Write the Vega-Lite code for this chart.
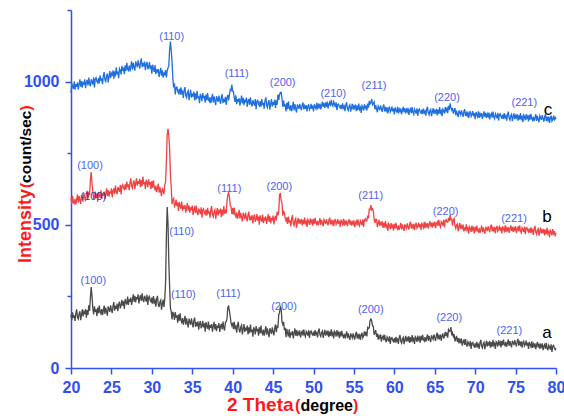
{
"$schema":"https://vega.github.io/schema/vega-lite/v6.json",
"width":485,"height":358,
"autosize":{"type":"none"},
"padding":{"left":71,"top":10,"right":8,"bottom":48},
"config":{"font":"Liberation Sans","view":{"stroke":null}},
"datasets":{
"xrd":[
{"x":20.0,"a":186,"b":593,"c":961},{"x":20.1,"a":167,"b":573,"c":995},{"x":20.2,"a":194,"b":601,"c":982},{"x":20.3,"a":175,"b":579,"c":974},{"x":20.4,"a":184,"b":574,"c":1001},{"x":20.5,"a":164,"b":591,"c":972},{"x":20.6,"a":192,"b":571,"c":991},{"x":20.7,"a":205,"b":588,"c":982},{"x":20.8,"a":177,"b":606,"c":997},{"x":20.9,"a":171,"b":577,"c":972},
{"x":21.0,"a":190,"b":600,"c":990},{"x":21.1,"a":198,"b":586,"c":1008},{"x":21.2,"a":167,"b":573,"c":982},{"x":21.3,"a":187,"b":604,"c":1002},{"x":21.4,"a":205,"b":596,"c":979},{"x":21.5,"a":180,"b":586,"c":999},{"x":21.6,"a":196,"b":610,"c":990},{"x":21.7,"a":188,"b":595,"c":1008},{"x":21.8,"a":206,"b":583,"c":977},{"x":21.9,"a":176,"b":606,"c":997},
{"x":22.0,"a":202,"b":619,"c":1006},{"x":22.1,"a":185,"b":592,"c":987},{"x":22.2,"a":219,"b":610,"c":1014},{"x":22.3,"a":199,"b":603,"c":992},{"x":22.4,"a":247,"b":661,"c":984},{"x":22.5,"a":283,"b":684,"c":1008},{"x":22.6,"a":251,"b":644,"c":1000},{"x":22.7,"a":209,"b":619,"c":990},{"x":22.8,"a":187,"b":590,"c":1015},{"x":22.9,"a":215,"b":597,"c":980},
{"x":23.0,"a":196,"b":616,"c":1008},{"x":23.1,"a":205,"b":594,"c":1013},{"x":23.2,"a":181,"b":609,"c":1001},{"x":23.3,"a":211,"b":581,"c":996},{"x":23.4,"a":191,"b":615,"c":1013},{"x":23.5,"a":218,"b":602,"c":994},{"x":23.6,"a":195,"b":594,"c":1022},{"x":23.7,"a":189,"b":620,"c":1003},{"x":23.8,"a":206,"b":591,"c":1011},{"x":23.9,"a":185,"b":610,"c":991},
{"x":24.0,"a":201,"b":601,"c":1020},{"x":24.1,"a":218,"b":616,"c":1033},{"x":24.2,"a":189,"b":590,"c":1005},{"x":24.3,"a":211,"b":609,"c":1000},{"x":24.4,"a":197,"b":627,"c":1020},{"x":24.5,"a":183,"b":601,"c":1028},{"x":24.6,"a":215,"b":621,"c":997},{"x":24.7,"a":206,"b":598,"c":1018},{"x":24.8,"a":196,"b":617,"c":1037},{"x":24.9,"a":219,"b":609,"c":1012},
{"x":25.0,"a":204,"b":627,"c":1028},{"x":25.1,"a":192,"b":596,"c":1020},{"x":25.2,"a":217,"b":618,"c":1039},{"x":25.3,"a":230,"b":627,"c":1010},{"x":25.4,"a":200,"b":608,"c":1036},{"x":25.5,"a":217,"b":637,"c":1018},{"x":25.6,"a":206,"b":615,"c":1050},{"x":25.7,"a":225,"b":607,"c":1025},{"x":25.8,"a":198,"b":632,"c":1035},{"x":25.9,"a":221,"b":625,"c":1012},
{"x":26.0,"a":232,"b":615,"c":1046},{"x":26.1,"a":208,"b":640,"c":1040},{"x":26.2,"a":218,"b":606,"c":1025},{"x":26.3,"a":238,"b":635,"c":1055},{"x":26.4,"a":218,"b":640,"c":1038},{"x":26.5,"a":233,"b":628,"c":1049},{"x":26.6,"a":206,"b":624,"c":1026},{"x":26.7,"a":241,"b":641,"c":1057},{"x":26.8,"a":229,"b":623,"c":1037},{"x":26.9,"a":222,"b":651,"c":1066},
{"x":27.0,"a":249,"b":632,"c":1044},{"x":27.1,"a":220,"b":641,"c":1039},{"x":27.2,"a":240,"b":621,"c":1056},{"x":27.3,"a":231,"b":649,"c":1036},{"x":27.4,"a":246,"b":662,"c":1053},{"x":27.5,"a":220,"b":634,"c":1071},{"x":27.6,"a":239,"b":628,"c":1042},{"x":27.7,"a":257,"b":648,"c":1065},{"x":27.8,"a":232,"b":655,"c":1051},{"x":27.9,"a":252,"b":624,"c":1038},
{"x":28.0,"a":229,"b":645,"c":1070},{"x":28.1,"a":248,"b":662,"c":1061},{"x":28.2,"a":240,"b":637,"c":1050},{"x":28.3,"a":257,"b":652,"c":1074},{"x":28.4,"a":225,"b":643,"c":1058},{"x":28.5,"a":245,"b":660,"c":1045},{"x":28.6,"a":254,"b":631,"c":1068},{"x":28.7,"a":234,"b":656,"c":1081},{"x":28.8,"a":261,"b":636,"c":1050},{"x":28.9,"a":239,"b":668,"c":1065},
{"x":29.0,"a":230,"b":642,"c":1053},{"x":29.1,"a":252,"b":649,"c":1070},{"x":29.2,"a":244,"b":624,"c":1040},{"x":29.3,"a":232,"b":657,"c":1060},{"x":29.4,"a":256,"b":649,"c":1069},{"x":29.5,"a":220,"b":631,"c":1043},{"x":29.6,"a":246,"b":659,"c":1050},{"x":29.7,"a":250,"b":640,"c":1068},{"x":29.8,"a":236,"b":649,"c":1044},{"x":29.9,"a":231,"b":624,"c":1057},
{"x":30.0,"a":246,"b":653,"c":1028},{"x":30.1,"a":225,"b":630,"c":1059},{"x":30.2,"a":251,"b":655,"c":1044},{"x":30.3,"a":229,"b":631,"c":1034},{"x":30.4,"a":236,"b":623,"c":1058},{"x":30.5,"a":214,"b":637,"c":1026},{"x":30.6,"a":241,"b":614,"c":1043},{"x":30.7,"a":252,"b":628,"c":1031},{"x":30.8,"a":221,"b":644,"c":1044},{"x":30.9,"a":213,"b":612,"c":1016},
{"x":31.0,"a":231,"b":632,"c":1032},{"x":31.1,"a":237,"b":615,"c":1048},{"x":31.2,"a":204,"b":600,"c":1021},{"x":31.3,"a":223,"b":629,"c":1039},{"x":31.4,"a":239,"b":619,"c":1014},{"x":31.5,"a":213,"b":607,"c":1032},{"x":31.6,"a":241,"b":640,"c":1022},{"x":31.7,"a":297,"b":649,"c":1040},{"x":31.8,"a":460,"b":720,"c":1015},{"x":31.9,"a":562,"b":815,"c":1038},
{"x":32.0,"a":505,"b":835,"c":1048},{"x":32.1,"a":372,"b":812,"c":1055},{"x":32.2,"a":285,"b":765,"c":1112},{"x":32.3,"a":210,"b":675,"c":1140},{"x":32.4,"a":197,"b":630,"c":1110},{"x":32.5,"a":170,"b":572,"c":1068},{"x":32.6,"a":196,"b":586,"c":1011},{"x":32.7,"a":187,"b":592,"c":980},{"x":32.8,"a":168,"b":564,"c":994},{"x":32.9,"a":195,"b":570,"c":955},
{"x":33.0,"a":176,"b":588,"c":978},{"x":33.1,"a":184,"b":565,"c":981},{"x":33.2,"a":158,"b":578,"c":967},{"x":33.3,"a":187,"b":548,"c":960},{"x":33.4,"a":165,"b":580,"c":975},{"x":33.5,"a":191,"b":566,"c":954},{"x":33.6,"a":166,"b":556,"c":980},{"x":33.7,"a":159,"b":581,"c":959},{"x":33.8,"a":174,"b":549,"c":965},{"x":33.9,"a":151,"b":567,"c":943},
{"x":34.0,"a":166,"b":556,"c":970},{"x":34.1,"a":182,"b":569,"c":981},{"x":34.2,"a":151,"b":542,"c":951},{"x":34.3,"a":173,"b":560,"c":944},{"x":34.4,"a":157,"b":576,"c":962},{"x":34.5,"a":142,"b":549,"c":968},{"x":34.6,"a":172,"b":567,"c":935},{"x":34.7,"a":162,"b":542,"c":954},{"x":34.8,"a":151,"b":561,"c":971},{"x":34.9,"a":173,"b":551,"c":944},
{"x":35.0,"a":156,"b":567,"c":958},{"x":35.1,"a":142,"b":534,"c":948},{"x":35.2,"a":165,"b":554,"c":965},{"x":35.3,"a":176,"b":561,"c":934},{"x":35.4,"a":144,"b":541,"c":959},{"x":35.5,"a":159,"b":567,"c":938},{"x":35.6,"a":146,"b":544,"c":968},{"x":35.7,"a":163,"b":534,"c":942},{"x":35.8,"a":134,"b":557,"c":949},{"x":35.9,"a":155,"b":548,"c":925},
{"x":36.0,"a":164,"b":537,"c":957},{"x":36.1,"a":139,"b":561,"c":949},{"x":36.2,"a":146,"b":525,"c":932},{"x":36.3,"a":165,"b":552,"c":960},{"x":36.4,"a":142,"b":556,"c":942},{"x":36.5,"a":156,"b":542,"c":950},{"x":36.6,"a":127,"b":537,"c":926},{"x":36.7,"a":160,"b":553,"c":955},{"x":36.8,"a":146,"b":532,"c":934},{"x":36.9,"a":137,"b":559,"c":960},
{"x":37.0,"a":162,"b":539,"c":937},{"x":37.1,"a":132,"b":547,"c":931},{"x":37.2,"a":150,"b":525,"c":946},{"x":37.3,"a":140,"b":553,"c":925},{"x":37.4,"a":153,"b":565,"c":940},{"x":37.5,"a":127,"b":535,"c":957},{"x":37.6,"a":145,"b":528,"c":927},{"x":37.7,"a":161,"b":547,"c":948},{"x":37.8,"a":135,"b":553,"c":933},{"x":37.9,"a":153,"b":521,"c":918},
{"x":38.0,"a":129,"b":541,"c":949},{"x":38.1,"a":148,"b":558,"c":940},{"x":38.2,"a":140,"b":533,"c":929},{"x":38.3,"a":157,"b":548,"c":951},{"x":38.4,"a":126,"b":540,"c":935},{"x":38.5,"a":146,"b":557,"c":922},{"x":38.6,"a":154,"b":527,"c":945},{"x":38.7,"a":135,"b":553,"c":956},{"x":38.8,"a":162,"b":533,"c":925},{"x":38.9,"a":140,"b":565,"c":940},
{"x":39.0,"a":131,"b":539,"c":928},{"x":39.1,"a":159,"b":549,"c":947},{"x":39.2,"a":161,"b":540,"c":919},{"x":39.3,"a":172,"b":582,"c":942},{"x":39.4,"a":212,"b":604,"c":954},{"x":39.5,"a":216,"b":612,"c":934},{"x":39.6,"a":199,"b":598,"c":955},{"x":39.7,"a":180,"b":566,"c":972},{"x":39.8,"a":157,"b":563,"c":969},{"x":39.9,"a":148,"b":538,"c":990},
{"x":40.0,"a":158,"b":558,"c":967},{"x":40.1,"a":136,"b":535,"c":965},{"x":40.2,"a":161,"b":560,"c":942},{"x":40.3,"a":139,"b":536,"c":929},{"x":40.4,"a":145,"b":528,"c":952},{"x":40.5,"a":123,"b":543,"c":921},{"x":40.6,"a":150,"b":521,"c":939},{"x":40.7,"a":161,"b":536,"c":929},{"x":40.8,"a":132,"b":552,"c":942},{"x":40.9,"a":124,"b":521,"c":916},
{"x":41.0,"a":143,"b":542,"c":934},{"x":41.1,"a":149,"b":526,"c":951},{"x":41.2,"a":117,"b":512,"c":924},{"x":41.3,"a":136,"b":542,"c":943},{"x":41.4,"a":153,"b":532,"c":918},{"x":41.5,"a":126,"b":520,"c":937},{"x":41.6,"a":141,"b":543,"c":928},{"x":41.7,"a":131,"b":526,"c":944},{"x":41.8,"a":148,"b":512,"c":912},{"x":41.9,"a":117,"b":535,"c":931},
{"x":42.0,"a":142,"b":546,"c":939},{"x":42.1,"a":122,"b":515,"c":919},{"x":42.2,"a":152,"b":529,"c":945},{"x":42.3,"a":126,"b":517,"c":922},{"x":42.4,"a":134,"b":534,"c":913},{"x":42.5,"a":109,"b":505,"c":935},{"x":42.6,"a":142,"b":527,"c":927},{"x":42.7,"a":135,"b":536,"c":916},{"x":42.8,"a":117,"b":511,"c":939},{"x":42.9,"a":146,"b":518,"c":904},
{"x":43.0,"a":128,"b":537,"c":931},{"x":43.1,"a":137,"b":515,"c":935},{"x":43.2,"a":113,"b":529,"c":922},{"x":43.3,"a":142,"b":500,"c":916},{"x":43.4,"a":121,"b":533,"c":932},{"x":43.5,"a":148,"b":520,"c":912},{"x":43.6,"a":125,"b":511,"c":939},{"x":43.7,"a":118,"b":536,"c":918},{"x":43.8,"a":134,"b":506,"c":926},{"x":43.9,"a":113,"b":525,"c":905},
{"x":44.0,"a":129,"b":515,"c":933},{"x":44.1,"a":146,"b":529,"c":945},{"x":44.2,"a":116,"b":503,"c":916},{"x":44.3,"a":138,"b":520,"c":909},{"x":44.4,"a":123,"b":537,"c":928},{"x":44.5,"a":108,"b":511,"c":935},{"x":44.6,"a":139,"b":530,"c":902},{"x":44.7,"a":130,"b":505,"c":922},{"x":44.8,"a":119,"b":524,"c":939},{"x":44.9,"a":142,"b":515,"c":913},
{"x":45.0,"a":126,"b":532,"c":928},{"x":45.1,"a":114,"b":501,"c":919},{"x":45.2,"a":138,"b":522,"c":937},{"x":45.3,"a":152,"b":532,"c":908},{"x":45.4,"a":125,"b":515,"c":935},{"x":45.5,"a":145,"b":546,"c":919},{"x":45.6,"a":143,"b":533,"c":955},{"x":45.7,"a":186,"b":546,"c":936},{"x":45.8,"a":195,"b":604,"c":954},{"x":45.9,"a":213,"b":611,"c":962},
{"x":46.0,"a":207,"b":585,"c":962},{"x":46.1,"a":162,"b":576,"c":942},{"x":46.2,"a":152,"b":532,"c":912},{"x":46.3,"a":161,"b":546,"c":934},{"x":46.4,"a":132,"b":542,"c":913},{"x":46.5,"a":140,"b":523,"c":921},{"x":46.6,"a":108,"b":514,"c":896},{"x":46.7,"a":137,"b":526,"c":926},{"x":46.8,"a":121,"b":503,"c":904},{"x":46.9,"a":110,"b":529,"c":931},
{"x":47.0,"a":135,"b":508,"c":908},{"x":47.1,"a":105,"b":516,"c":902},{"x":47.2,"a":124,"b":494,"c":918},{"x":47.3,"a":115,"b":522,"c":897},{"x":47.4,"a":129,"b":534,"c":912},{"x":47.5,"a":103,"b":504,"c":929},{"x":47.6,"a":121,"b":497,"c":899},{"x":47.7,"a":138,"b":516,"c":921},{"x":47.8,"a":113,"b":522,"c":906},{"x":47.9,"a":132,"b":490,"c":892},
{"x":48.0,"a":111,"b":510,"c":920},{"x":48.1,"a":125,"b":523,"c":913},{"x":48.2,"a":118,"b":503,"c":905},{"x":48.3,"a":131,"b":515,"c":922},{"x":48.4,"a":107,"b":508,"c":910},{"x":48.5,"a":122,"b":521,"c":900},{"x":48.6,"a":128,"b":498,"c":918},{"x":48.7,"a":113,"b":517,"c":927},{"x":48.8,"a":134,"b":502,"c":903},{"x":48.9,"a":117,"b":525,"c":915},
{"x":49.0,"a":110,"b":505,"c":905},{"x":49.1,"a":128,"b":512,"c":918},{"x":49.2,"a":122,"b":493,"c":896},{"x":49.3,"a":113,"b":518,"c":913},{"x":49.4,"a":132,"b":513,"c":921},{"x":49.5,"a":105,"b":500,"c":902},{"x":49.6,"a":126,"b":522,"c":908},{"x":49.7,"a":129,"b":508,"c":922},{"x":49.8,"a":119,"b":515,"c":905},{"x":49.9,"a":115,"b":497,"c":916},
{"x":50.0,"a":127,"b":520,"c":896},{"x":50.1,"a":112,"b":504,"c":921},{"x":50.2,"a":132,"b":524,"c":912},{"x":50.3,"a":117,"b":507,"c":905},{"x":50.4,"a":123,"b":502,"c":926},{"x":50.5,"a":107,"b":514,"c":903},{"x":50.6,"a":129,"b":498,"c":919},{"x":50.7,"a":138,"b":510,"c":911},{"x":50.8,"a":116,"b":523,"c":923},{"x":50.9,"a":110,"b":500,"c":903},
{"x":51.0,"a":124,"b":517,"c":917},{"x":51.1,"a":129,"b":505,"c":930},{"x":51.2,"a":105,"b":495,"c":912},{"x":51.3,"a":120,"b":518,"c":926},{"x":51.4,"a":133,"b":511,"c":908},{"x":51.5,"a":113,"b":503,"c":923},{"x":51.6,"a":125,"b":520,"c":916},{"x":51.7,"a":118,"b":508,"c":930},{"x":51.8,"a":131,"b":498,"c":906},{"x":51.9,"a":108,"b":516,"c":922},
{"x":52.0,"a":127,"b":525,"c":928},{"x":52.1,"a":112,"b":501,"c":914},{"x":52.2,"a":135,"b":513,"c":936},{"x":52.3,"a":115,"b":504,"c":920},{"x":52.4,"a":122,"b":517,"c":914},{"x":52.5,"a":103,"b":495,"c":930},{"x":52.6,"a":128,"b":512,"c":922},{"x":52.7,"a":123,"b":520,"c":911},{"x":52.8,"a":110,"b":501,"c":928},{"x":52.9,"a":132,"b":507,"c":900},
{"x":53.0,"a":116,"b":520,"c":920},{"x":53.1,"a":123,"b":503,"c":922},{"x":53.2,"a":104,"b":514,"c":912},{"x":53.3,"a":127,"b":493,"c":908},{"x":53.4,"a":110,"b":518,"c":919},{"x":53.5,"a":130,"b":508,"c":904},{"x":53.6,"a":113,"b":501,"c":924},{"x":53.7,"a":107,"b":521,"c":908},{"x":53.8,"a":119,"b":497,"c":914},{"x":53.9,"a":103,"b":512,"c":897},
{"x":54.0,"a":115,"b":504,"c":919},{"x":54.1,"a":128,"b":515,"c":928},{"x":54.2,"a":104,"b":495,"c":906},{"x":54.3,"a":121,"b":509,"c":899},{"x":54.4,"a":108,"b":520,"c":914},{"x":54.5,"a":98,"b":501,"c":919},{"x":54.6,"a":121,"b":515,"c":895},{"x":54.7,"a":113,"b":497,"c":910},{"x":54.8,"a":105,"b":510,"c":922},{"x":54.9,"a":121,"b":503,"c":902},
{"x":55.0,"a":109,"b":516,"c":914},{"x":55.1,"a":99,"b":492,"c":907},{"x":55.2,"a":117,"b":507,"c":920},{"x":55.3,"a":126,"b":513,"c":897},{"x":55.4,"a":103,"b":498,"c":916},{"x":55.5,"a":115,"b":519,"c":900},{"x":55.6,"a":106,"b":502,"c":923},{"x":55.7,"a":119,"b":496,"c":903},{"x":55.8,"a":98,"b":514,"c":910},{"x":55.9,"a":115,"b":508,"c":891},
{"x":56.0,"a":123,"b":499,"c":916},{"x":56.1,"a":105,"b":519,"c":911},{"x":56.2,"a":112,"b":493,"c":899},{"x":56.3,"a":128,"b":516,"c":921},{"x":56.4,"a":113,"b":521,"c":908},{"x":56.5,"a":126,"b":513,"c":916},{"x":56.6,"a":110,"b":514,"c":899},{"x":56.7,"a":141,"b":532,"c":923},{"x":56.8,"a":138,"b":523,"c":909},{"x":56.9,"a":141,"b":554,"c":933},
{"x":57.0,"a":165,"b":553,"c":922},{"x":57.1,"a":171,"b":569,"c":926},{"x":57.2,"a":165,"b":552,"c":940},{"x":57.3,"a":147,"b":556,"c":919},{"x":57.4,"a":146,"b":548,"c":923},{"x":57.5,"a":116,"b":520,"c":929},{"x":57.6,"a":124,"b":507,"c":903},{"x":57.7,"a":132,"b":519,"c":918},{"x":57.8,"a":109,"b":519,"c":904},{"x":57.9,"a":120,"b":492,"c":893},
{"x":58.0,"a":99,"b":505,"c":915},{"x":58.1,"a":112,"b":517,"c":908},{"x":58.2,"a":105,"b":496,"c":900},{"x":58.3,"a":117,"b":507,"c":917},{"x":58.4,"a":92,"b":501,"c":905},{"x":58.5,"a":107,"b":513,"c":894},{"x":58.6,"a":112,"b":489,"c":912},{"x":58.7,"a":97,"b":507,"c":920},{"x":58.8,"a":116,"b":491,"c":896},{"x":58.9,"a":98,"b":513,"c":907},
{"x":59.0,"a":90,"b":492,"c":898},{"x":59.1,"a":108,"b":499,"c":911},{"x":59.2,"a":101,"b":479,"c":889},{"x":59.3,"a":92,"b":504,"c":905},{"x":59.4,"a":111,"b":498,"c":913},{"x":59.5,"a":84,"b":485,"c":894},{"x":59.6,"a":104,"b":506,"c":900},{"x":59.7,"a":106,"b":492,"c":913},{"x":59.8,"a":96,"b":498,"c":896},{"x":59.9,"a":92,"b":480,"c":906},
{"x":60.0,"a":104,"b":503,"c":885},{"x":60.1,"a":89,"b":487,"c":910},{"x":60.2,"a":109,"b":507,"c":900},{"x":60.3,"a":94,"b":490,"c":892},{"x":60.4,"a":100,"b":485,"c":912},{"x":60.5,"a":84,"b":498,"c":889},{"x":60.6,"a":106,"b":482,"c":904},{"x":60.7,"a":115,"b":494,"c":896},{"x":60.8,"a":93,"b":507,"c":906},{"x":60.9,"a":87,"b":484,"c":886},
{"x":61.0,"a":102,"b":501,"c":900},{"x":61.1,"a":107,"b":489,"c":912},{"x":61.2,"a":83,"b":479,"c":893},{"x":61.3,"a":99,"b":502,"c":907},{"x":61.4,"a":112,"b":495,"c":889},{"x":61.5,"a":92,"b":488,"c":903},{"x":61.6,"a":104,"b":505,"c":895},{"x":61.7,"a":97,"b":493,"c":908},{"x":61.8,"a":111,"b":483,"c":884},{"x":61.9,"a":88,"b":502,"c":899},
{"x":62.0,"a":107,"b":511,"c":905},{"x":62.1,"a":92,"b":487,"c":890},{"x":62.2,"a":115,"b":499,"c":911},{"x":62.3,"a":95,"b":490,"c":893},{"x":62.4,"a":102,"b":503,"c":886},{"x":62.5,"a":84,"b":481,"c":904},{"x":62.6,"a":109,"b":499,"c":897},{"x":62.7,"a":104,"b":507,"c":888},{"x":62.8,"a":91,"b":488,"c":907},{"x":62.9,"a":113,"b":494,"c":880},
{"x":63.0,"a":99,"b":508,"c":901},{"x":63.1,"a":106,"b":491,"c":904},{"x":63.2,"a":88,"b":502,"c":894},{"x":63.3,"a":112,"b":482,"c":890},{"x":63.4,"a":96,"b":507,"c":902},{"x":63.5,"a":116,"b":497,"c":887},{"x":63.6,"a":99,"b":490,"c":906},{"x":63.7,"a":94,"b":510,"c":891},{"x":63.8,"a":108,"b":488,"c":897},{"x":63.9,"a":92,"b":503,"c":881},
{"x":64.0,"a":104,"b":495,"c":903},{"x":64.1,"a":117,"b":506,"c":912},{"x":64.2,"a":95,"b":487,"c":890},{"x":64.3,"a":112,"b":501,"c":884},{"x":64.4,"a":100,"b":513,"c":899},{"x":64.5,"a":91,"b":494,"c":903},{"x":64.6,"a":114,"b":508,"c":879},{"x":64.7,"a":107,"b":490,"c":894},{"x":64.8,"a":100,"b":505,"c":907},{"x":64.9,"a":117,"b":498,"c":887},
{"x":65.0,"a":105,"b":511,"c":899},{"x":65.1,"a":95,"b":488,"c":892},{"x":65.2,"a":114,"b":503,"c":905},{"x":65.3,"a":123,"b":510,"c":882},{"x":65.4,"a":100,"b":496,"c":902},{"x":65.5,"a":112,"b":517,"c":887},{"x":65.6,"a":104,"b":499,"c":911},{"x":65.7,"a":117,"b":492,"c":891},{"x":65.8,"a":95,"b":511,"c":898},{"x":65.9,"a":112,"b":506,"c":879},
{"x":66.0,"a":121,"b":497,"c":904},{"x":66.1,"a":103,"b":517,"c":900},{"x":66.2,"a":111,"b":491,"c":888},{"x":66.3,"a":126,"b":514,"c":911},{"x":66.4,"a":111,"b":518,"c":898},{"x":66.5,"a":124,"b":510,"c":906},{"x":66.6,"a":106,"b":509,"c":890},{"x":66.7,"a":134,"b":524,"c":915},{"x":66.8,"a":128,"b":513,"c":901},{"x":66.9,"a":130,"b":536,"c":924},
{"x":67.0,"a":143,"b":518,"c":909},{"x":67.1,"a":114,"b":520,"c":900},{"x":67.2,"a":123,"b":498,"c":908},{"x":67.3,"a":110,"b":516,"c":888},{"x":67.4,"a":118,"b":522,"c":897},{"x":67.5,"a":93,"b":496,"c":908},{"x":67.6,"a":103,"b":487,"c":883},{"x":67.7,"a":112,"b":500,"c":899},{"x":67.8,"a":91,"b":503,"c":886},{"x":67.9,"a":104,"b":478,"c":876},
{"x":68.0,"a":86,"b":493,"c":899},{"x":68.1,"a":99,"b":506,"c":892},{"x":68.2,"a":91,"b":485,"c":884},{"x":68.3,"a":103,"b":496,"c":900},{"x":68.4,"a":78,"b":489,"c":888},{"x":68.5,"a":92,"b":501,"c":877},{"x":68.6,"a":97,"b":477,"c":895},{"x":68.7,"a":81,"b":491,"c":904},{"x":68.8,"a":101,"b":480,"c":880},{"x":68.9,"a":83,"b":502,"c":891},
{"x":69.0,"a":75,"b":482,"c":882},{"x":69.1,"a":92,"b":489,"c":895},{"x":69.2,"a":86,"b":469,"c":873},{"x":69.3,"a":76,"b":493,"c":889},{"x":69.4,"a":94,"b":488,"c":897},{"x":69.5,"a":67,"b":475,"c":878},{"x":69.6,"a":87,"b":497,"c":884},{"x":69.7,"a":89,"b":482,"c":897},{"x":69.8,"a":79,"b":489,"c":879},{"x":69.9,"a":74,"b":470,"c":890},
{"x":70.0,"a":86,"b":493,"c":869},{"x":70.1,"a":71,"b":477,"c":894},{"x":70.2,"a":91,"b":497,"c":884},{"x":70.3,"a":76,"b":480,"c":877},{"x":70.4,"a":82,"b":475,"c":896},{"x":70.5,"a":67,"b":488,"c":873},{"x":70.6,"a":89,"b":472,"c":888},{"x":70.7,"a":98,"b":484,"c":880},{"x":70.8,"a":76,"b":497,"c":890},{"x":70.9,"a":70,"b":474,"c":870},
{"x":71.0,"a":85,"b":491,"c":884},{"x":71.1,"a":90,"b":479,"c":896},{"x":71.2,"a":66,"b":469,"c":877},{"x":71.3,"a":82,"b":493,"c":891},{"x":71.4,"a":95,"b":486,"c":873},{"x":71.5,"a":75,"b":478,"c":887},{"x":71.6,"a":87,"b":495,"c":879},{"x":71.7,"a":81,"b":484,"c":892},{"x":71.8,"a":94,"b":474,"c":868},{"x":71.9,"a":71,"b":492,"c":883},
{"x":72.0,"a":90,"b":501,"c":889},{"x":72.1,"a":75,"b":477,"c":874},{"x":72.2,"a":98,"b":489,"c":895},{"x":72.3,"a":79,"b":480,"c":877},{"x":72.4,"a":86,"b":493,"c":870},{"x":72.5,"a":67,"b":471,"c":888},{"x":72.6,"a":92,"b":488,"c":881},{"x":72.7,"a":88,"b":496,"c":872},{"x":72.8,"a":75,"b":477,"c":891},{"x":72.9,"a":97,"b":483,"c":864},
{"x":73.0,"a":83,"b":497,"c":885},{"x":73.1,"a":90,"b":480,"c":888},{"x":73.2,"a":72,"b":491,"c":878},{"x":73.3,"a":95,"b":470,"c":873},{"x":73.4,"a":79,"b":495,"c":885},{"x":73.5,"a":99,"b":485,"c":870},{"x":73.6,"a":83,"b":478,"c":890},{"x":73.7,"a":78,"b":498,"c":874},{"x":73.8,"a":91,"b":474,"c":880},{"x":73.9,"a":75,"b":489,"c":864},
{"x":74.0,"a":87,"b":481,"c":886},{"x":74.1,"a":100,"b":492,"c":895},{"x":74.2,"a":77,"b":472,"c":873},{"x":74.3,"a":94,"b":486,"c":866},{"x":74.4,"a":82,"b":498,"c":881},{"x":74.5,"a":72,"b":479,"c":886},{"x":74.6,"a":95,"b":493,"c":862},{"x":74.7,"a":88,"b":475,"c":877},{"x":74.8,"a":80,"b":489,"c":889},{"x":74.9,"a":97,"b":482,"c":869},
{"x":75.0,"a":85,"b":495,"c":881},{"x":75.1,"a":75,"b":471,"c":874},{"x":75.2,"a":93,"b":486,"c":887},{"x":75.3,"a":102,"b":492,"c":864},{"x":75.4,"a":78,"b":477,"c":882},{"x":75.5,"a":90,"b":497,"c":867},{"x":75.6,"a":81,"b":479,"c":890},{"x":75.7,"a":93,"b":472,"c":870},{"x":75.8,"a":71,"b":490,"c":877},{"x":75.9,"a":88,"b":484,"c":858},
{"x":76.0,"a":96,"b":475,"c":883},{"x":76.1,"a":77,"b":494,"c":878},{"x":76.2,"a":82,"b":467,"c":865},{"x":76.3,"a":96,"b":488,"c":886},{"x":76.4,"a":78,"b":490,"c":872},{"x":76.5,"a":88,"b":480,"c":879},{"x":76.6,"a":67,"b":475,"c":861},{"x":76.7,"a":91,"b":487,"c":884},{"x":76.8,"a":81,"b":472,"c":867},{"x":76.9,"a":74,"b":491,"c":887},
{"x":77.0,"a":93,"b":476,"c":870},{"x":77.1,"a":70,"b":482,"c":865},{"x":77.2,"a":84,"b":465,"c":878},{"x":77.3,"a":76,"b":487,"c":862},{"x":77.4,"a":86,"b":496,"c":873},{"x":77.5,"a":66,"b":474,"c":886},{"x":77.6,"a":80,"b":467,"c":863},{"x":77.7,"a":91,"b":482,"c":880},{"x":77.8,"a":72,"b":486,"c":868},{"x":77.9,"a":85,"b":462,"c":858},
{"x":78.0,"a":67,"b":477,"c":881},{"x":78.1,"a":81,"b":490,"c":874},{"x":78.2,"a":74,"b":470,"c":866},{"x":78.3,"a":86,"b":481,"c":883},{"x":78.4,"a":62,"b":474,"c":871},{"x":78.5,"a":76,"b":486,"c":860},{"x":78.6,"a":82,"b":463,"c":878},{"x":78.7,"a":67,"b":482,"c":886},{"x":78.8,"a":88,"b":467,"c":862},{"x":78.9,"a":70,"b":489,"c":874},
{"x":79.0,"a":62,"b":469,"c":865},{"x":79.1,"a":80,"b":476,"c":878},{"x":79.2,"a":74,"b":457,"c":856},{"x":79.3,"a":64,"b":481,"c":873},{"x":79.4,"a":83,"b":476,"c":881},{"x":79.5,"a":56,"b":463,"c":862},{"x":79.6,"a":76,"b":485,"c":868},{"x":79.7,"a":79,"b":470,"c":881},{"x":79.8,"a":69,"b":478,"c":864},{"x":79.9,"a":64,"b":460,"c":875},
{"x":80.0,"a":70,"b":472,"c":869}
],
"ann":[
{"x":32.46,"y":1155,"t":"(110)","k":"hkl"},
{"x":40.5,"y":1025,"t":"(111)","k":"hkl"},
{"x":46.19,"y":996,"t":"(200)","k":"hkl"},
{"x":52.45,"y":955,"t":"(210)","k":"hkl"},
{"x":57.49,"y":986,"t":"(211)","k":"hkl"},
{"x":66.52,"y":944,"t":"(220)","k":"hkl"},
{"x":76.08,"y":924,"t":"(221)","k":"hkl"},
{"x":22.35,"y":706,"t":"(100)","k":"hkl"},
{"x":22.76,"y":596,"t":"(100)","k":"hkl2"},
{"x":39.59,"y":624,"t":"(111)","k":"hkl"},
{"x":45.77,"y":633,"t":"(200)","k":"hkl"},
{"x":57.08,"y":601,"t":"(211)","k":"hkl"},
{"x":66.35,"y":546,"t":"(220)","k":"hkl"},
{"x":74.81,"y":519,"t":"(221)","k":"hkl"},
{"x":22.76,"y":305,"t":"(100)","k":"hkl"},
{"x":33.7,"y":476,"t":"(110)","k":"hkl"},
{"x":33.9,"y":255,"t":"(110)","k":"hkl"},
{"x":39.46,"y":258,"t":"(111)","k":"hkl"},
{"x":46.35,"y":212,"t":"(200)","k":"hkl"},
{"x":57.08,"y":203,"t":"(200)","k":"hkl"},
{"x":66.8,"y":176,"t":"(220)","k":"hkl"},
{"x":74.23,"y":129,"t":"(221)","k":"hkl"},
{"x":79.0,"y":901,"t":"c","k":"ser"},
{"x":78.9,"y":527,"t":"b","k":"ser"},
{"x":78.9,"y":122,"t":"a","k":"ser"}
]
},
"layer":[
{
"data":{"name":"xrd"},
"transform":[{"fold":["a","b","c"],"as":["s","y"]}],
"mark":{"type":"line","strokeWidth":1.3,"interpolate":"linear"},
"encoding":{
"x":{"field":"x","type":"quantitative","scale":{"domain":[20,80],"nice":false,"zero":false},
"axis":{"title":null,"grid":false,"values":[20,22.5,25,27.5,30,32.5,35,37.5,40,42.5,45,47.5,50,52.5,55,57.5,60,62.5,65,67.5,70,72.5,75,77.5,80],
"labelExpr":"datum.value % 5 === 0 ? datum.label : ''","labelFlush":false,"labelOverlap":false,
"domainColor":"#3050f0","domainWidth":1.5,"tickColor":"#3050f0","tickWidth":1.5,
"tickSize":{"condition":{"test":"datum.value % 5 === 0","value":6},"value":3},
"labelColor":"#3050f0","labelFontSize":16,"labelFontWeight":"bold","labelFont":"Liberation Sans","labelPadding":5}},
"y":{"field":"y","type":"quantitative","scale":{"domain":[0,1250],"nice":false},
"axis":{"title":null,"grid":false,"values":[0,250,500,750,1000,1250],"format":"d",
"labelExpr":"datum.value % 500 === 0 ? datum.label : ''","labelFlush":false,"labelOverlap":false,
"domainColor":"#3050f0","domainWidth":1.5,"tickColor":"#3050f0","tickWidth":1.5,
"tickSize":{"condition":{"test":"datum.value % 500 === 0","value":6},"value":4},
"labelColor":"#3050f0","labelFontSize":16,"labelFontWeight":"bold","labelFont":"Liberation Sans","labelPadding":6}},
"color":{"field":"s","type":"nominal","scale":{"domain":["a","b","c"],"range":["#4a4a4a","#ef4343","#1f6fdf"]},"legend":null}
}
},
{
"data":{"name":"ann"},
"transform":[{"filter":"datum.k === 'hkl'"}],
"mark":{"type":"text","fontSize":11,"color":"#4e63f2","font":"Liberation Sans","align":"center","baseline":"middle"},
"encoding":{"x":{"field":"x","type":"quantitative","title":null},"y":{"field":"y","type":"quantitative","title":null},"text":{"field":"t"}}
},
{
"data":{"name":"ann"},
"transform":[{"filter":"datum.k === 'hkl2'"}],
"mark":{"type":"text","fontSize":11,"color":"#3b3ba8","font":"Liberation Sans","align":"center","baseline":"middle"},
"encoding":{"x":{"field":"x","type":"quantitative","title":null},"y":{"field":"y","type":"quantitative","title":null},"text":{"field":"t"}}
},
{
"data":{"name":"ann"},
"transform":[{"filter":"datum.k === 'ser'"}],
"mark":{"type":"text","fontSize":17,"color":"#000000","font":"Liberation Sans","align":"center","baseline":"middle"},
"encoding":{"x":{"field":"x","type":"quantitative","title":null},"y":{"field":"y","type":"quantitative","title":null},"text":{"field":"t"}}
},
{
"data":{"values":[{}]},
"mark":{"type":"text","text":"2 Theta","fontSize":19,"fontWeight":"bold","color":"#ff1a1a","font":"Liberation Sans","align":"left","baseline":"alphabetic"},
"encoding":{"x":{"datum":39.3,"type":"quantitative","title":null},"y":{"datum":-150,"type":"quantitative","title":null}}
},
{
"data":{"values":[{}]},
"mark":{"type":"text","text":"(","fontSize":16,"fontWeight":"bold","color":"#ff1a1a","font":"Liberation Sans","align":"left","baseline":"alphabetic","dx":68},
"encoding":{"x":{"datum":39.3,"type":"quantitative","title":null},"y":{"datum":-150,"type":"quantitative","title":null}}
},
{
"data":{"values":[{}]},
"mark":{"type":"text","text":"degree","fontSize":16,"fontWeight":"bold","color":"#000000","font":"Liberation Sans","align":"left","baseline":"alphabetic","dx":73.5},
"encoding":{"x":{"datum":39.3,"type":"quantitative","title":null},"y":{"datum":-150,"type":"quantitative","title":null}}
},
{
"data":{"values":[{}]},
"mark":{"type":"text","text":")","fontSize":16,"fontWeight":"bold","color":"#ff1a1a","font":"Liberation Sans","align":"left","baseline":"alphabetic","dx":126},
"encoding":{"x":{"datum":39.3,"type":"quantitative","title":null},"y":{"datum":-150,"type":"quantitative","title":null}}
},
{
"data":{"values":[{}]},
"mark":{"type":"text","text":"Intensity","fontSize":18,"fontWeight":"bold","color":"#ff1a1a","font":"Liberation Sans","align":"left","baseline":"alphabetic","angle":270},
"encoding":{"x":{"datum":15.05,"type":"quantitative","title":null},"y":{"datum":367,"type":"quantitative","title":null}}
},
{
"data":{"values":[{}]},
"mark":{"type":"text","text":"(","fontSize":15.5,"fontWeight":"bold","color":"#ff1a1a","font":"Liberation Sans","align":"left","baseline":"alphabetic","angle":270,"dx":75},
"encoding":{"x":{"datum":15.05,"type":"quantitative","title":null},"y":{"datum":367,"type":"quantitative","title":null}}
},
{
"data":{"values":[{}]},
"mark":{"type":"text","text":"count/sec","fontSize":15.5,"fontWeight":"bold","color":"#000000","font":"Liberation Sans","align":"left","baseline":"alphabetic","angle":270,"dx":80},
"encoding":{"x":{"datum":15.05,"type":"quantitative","title":null},"y":{"datum":367,"type":"quantitative","title":null}}
},
{
"data":{"values":[{}]},
"mark":{"type":"text","text":")","fontSize":15.5,"fontWeight":"bold","color":"#ff1a1a","font":"Liberation Sans","align":"left","baseline":"alphabetic","angle":270,"dx":152.5},
"encoding":{"x":{"datum":15.05,"type":"quantitative","title":null},"y":{"datum":367,"type":"quantitative","title":null}}
}
]
}
